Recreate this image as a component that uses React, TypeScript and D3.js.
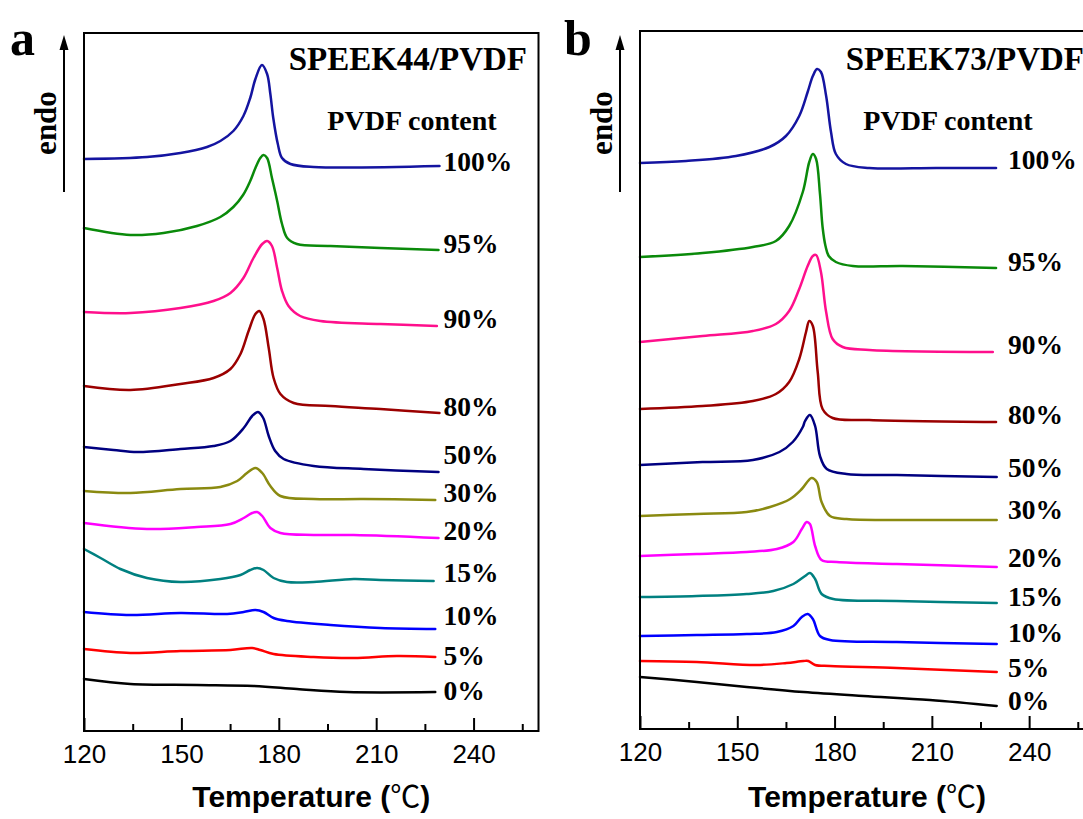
import React, { useEffect, useRef } from 'react';
import * as d3 from 'd3';

type Pt = [number, number];

const W = 1083;
const H = 819;

// PVDF content of each trace, top to bottom
const contentLabels = ['100%', '95%', '90%', '80%', '50%', '30%', '20%', '15%', '10%', '5%', '0%'];
const lineColors = ['#1414a0', '#0a8a0a', '#ff0f8c', '#9b0000', '#000080', '#8a8a10', '#ff00ff', '#008080', '#0000ff', '#ff0000', '#000000'];

const majorTicks = [120, 150, 180, 210, 240];
const minorTicks = [135, 165, 195, 225, 255];

// ---- panel a : SPEEK44/PVDF  (temperature °C, heat flow a.u. with offset)
const a100: Pt[] = [[120, 57.2], [139.4, 57.4], [149.7, 57.8], [157.9, 58.4], [162, 59.0], [166, 60.0], [169.1, 61.5], [171.2, 63.3], [172.8, 65.2], [174.8, 66.6], [176.4, 65.7], [177.4, 63.7], [178.3, 61.3], [179.7, 58.7], [181, 57.3], [183.6, 56.7], [190.7, 56.4], [229.5, 56.5]];
const a95: Pt[] = [[120, 50.3], [134.3, 49.6], [144.5, 49.8], [154.8, 50.5], [162, 51.4], [166, 52.4], [169, 53.6], [171.2, 55.0], [172.8, 56.3], [174.3, 57.3], [175.3, 57.6], [176.4, 57.3], [177.9, 55.3], [179.5, 53.0], [181, 50.7], [182.6, 49.3], [185.6, 48.7], [195.9, 48.5], [229.2, 48.1]];
const a90: Pt[] = [[120, 41.9], [134.3, 41.8], [149.7, 42.3], [159.9, 43.0], [165.1, 43.8], [169.1, 45.3], [172.2, 47.3], [174.9, 48.7], [176.4, 49.0], [177.9, 48.5], [179.5, 46.3], [181, 44.0], [183, 42.5], [186.6, 41.5], [192.8, 41.0], [211.3, 40.7], [228.7, 40.5]];
const a80: Pt[] = [[120, 34.5], [134.3, 34.1], [149.7, 34.7], [159.9, 35.3], [165.1, 36.2], [168.2, 37.7], [170.7, 40.0], [172.8, 41.7], [174, 42.0], [175.3, 41.2], [176.9, 38.3], [178.4, 35.3], [180.5, 33.7], [184.6, 32.8], [195.9, 32.5], [211.3, 32.2], [229.5, 31.8]];
const a50: Pt[] = [[120, 28.4], [129.1, 28.1], [136.4, 27.9], [149.7, 28.2], [159.9, 28.5], [165.1, 29.0], [169.2, 30.3], [171.8, 31.5], [173.6, 31.9], [175.2, 31.3], [176.9, 29.5], [178.9, 28.0], [181.5, 27.2], [190.7, 26.5], [206.1, 26.2], [229.2, 25.9]];
const a30: Pt[] = [[120, 24.0], [134.3, 23.8], [149.7, 24.2], [162, 24.4], [167.2, 25.0], [170.2, 25.8], [172.8, 26.3], [174.9, 25.8], [177.4, 24.5], [180.5, 23.5], [190.7, 23.2], [206.1, 23.2], [228.2, 23.1]];
const a20: Pt[] = [[120, 20.8], [139.4, 20.2], [154.8, 20.4], [165.1, 20.7], [169.2, 21.3], [171.8, 21.8], [173.3, 21.9], [174.9, 21.5], [177.4, 20.3], [180.5, 19.8], [190.7, 19.6], [203.1, 19.6], [229.2, 19.3]];
const a15: Pt[] = [[120, 18.2], [125.1, 17.3], [131.2, 16.2], [139.4, 15.3], [149.7, 14.9], [162, 15.2], [168.2, 15.6], [171.2, 16.1], [173.3, 16.3], [175.3, 16.1], [178.4, 15.3], [182.5, 14.9], [190.7, 14.9], [203.1, 15.2], [211.3, 15.1], [227.7, 15.0]];
const a10: Pt[] = [[120, 11.9], [134.3, 11.6], [149.7, 11.8], [164.1, 11.7], [169.2, 11.9], [172.8, 12.1], [175.3, 11.9], [178.4, 11.3], [182.5, 11.0], [195.9, 10.6], [211.3, 10.3], [228.2, 10.2]];
const a5: Pt[] = [[120, 8.2], [134.3, 7.8], [149.7, 8.0], [165.1, 8.1], [171.8, 8.3], [174.3, 8.1], [178.4, 7.7], [190.7, 7.4], [203.1, 7.3], [216.4, 7.5], [228.2, 7.4]];
const a0: Pt[] = [[120, 5.2], [134.3, 4.7], [154.8, 4.6], [172.3, 4.5], [185.6, 4.2], [201, 3.9], [228.2, 3.9]];
// level (a.u.) at which each content label sits
const labelLevelA = [56.0, 47.8, 40.3, 31.5, 26.7, 22.9, 19.1, 14.9, 10.6, 6.6, 3.1];

// ---- panel b : SPEEK73/PVDF
const b100: Pt[] = [[120, 56.6], [134.2, 56.8], [149.6, 57.3], [159.9, 58.2], [165, 59.3], [169.1, 61.3], [171.7, 63.7], [173.3, 65.3], [174.6, 66.0], [175.8, 65.7], [177.4, 63.3], [178.9, 59.7], [180.4, 57.5], [183.5, 56.5], [190.7, 56.1], [211.3, 56.1], [229.8, 56.1]];
const b95: Pt[] = [[120, 47.2], [139.3, 47.6], [154.8, 48.2], [161.9, 48.8], [166, 50.3], [170.2, 53.7], [172.2, 56.7], [173.3, 57.5], [174.3, 57.0], [175.5, 53.5], [176.3, 50.2], [177.2, 48.3], [178.2, 47.3], [180.4, 46.7], [185.6, 46.3], [201, 46.3], [229.8, 46.1]];
const b90: Pt[] = [[120, 38.7], [139.3, 39.3], [154.8, 39.8], [161.9, 40.5], [166, 41.8], [169.1, 44.0], [171.7, 46.3], [173.3, 47.3], [174.3, 47.4], [175.8, 45.7], [177.4, 41.7], [179.4, 39.0], [182.5, 38.2], [190.7, 37.9], [228.8, 37.7]];
const b80: Pt[] = [[120, 32.0], [139.3, 32.3], [154.8, 32.8], [161.9, 33.5], [166, 34.7], [169.1, 37.0], [171.2, 39.7], [172.2, 40.8], [173.3, 40.3], [174.8, 35.7], [176.3, 32.0], [179.4, 31.1], [190.7, 30.9], [229.8, 30.7]];
const b50: Pt[] = [[120, 26.4], [139.3, 26.7], [154.8, 26.9], [163, 27.7], [167.1, 28.7], [170.2, 30.2], [170.9, 30.8], [172.4, 31.4], [174, 30.3], [175.5, 27.3], [177.6, 26.0], [183.7, 25.5], [199.2, 25.4], [230, 25.2]];
const b30: Pt[] = [[120, 21.3], [137.5, 21.5], [152.9, 21.7], [160.1, 22.2], [166.3, 23.0], [169.9, 24.0], [172.9, 25.1], [174.5, 24.7], [176, 22.7], [178.6, 21.3], [183.7, 21.0], [199.2, 20.9], [230, 20.9]];
const b20: Pt[] = [[120, 17.3], [137.5, 17.5], [152.9, 17.7], [162.2, 18.0], [167.3, 18.7], [169.9, 20.0], [171.4, 20.7], [172.4, 20.5], [174, 18.3], [176, 16.9], [180.7, 16.7], [199.2, 16.5], [230, 16.2]];
const b15: Pt[] = [[120, 13.2], [137.5, 13.3], [152.9, 13.5], [161.1, 13.8], [167.3, 14.5], [170.9, 15.3], [172.4, 15.6], [174, 15.0], [176, 13.5], [179.6, 13.0], [199.2, 12.8], [230, 12.6]];
const b10: Pt[] = [[120, 9.3], [137.5, 9.4], [152.9, 9.5], [162.2, 9.7], [167.3, 10.3], [169.9, 11.2], [171.7, 11.5], [173.3, 11.0], [175.5, 9.3], [178.6, 8.9], [199.2, 8.7], [230, 8.5]];
const b5: Pt[] = [[120, 6.8], [137.5, 6.7], [156, 6.4], [165.2, 6.6], [170.4, 6.8], [171.9, 6.8], [174, 6.4], [178.6, 6.3], [199.2, 6.1], [230, 5.7]];
const b0: Pt[] = [[120, 5.2], [137.5, 4.7], [152.9, 4.2], [170.4, 3.7], [188.9, 3.3], [209.4, 2.9], [230, 2.3]];
const labelLevelB = [56.0, 45.8, 37.5, 30.5, 25.2, 21.0, 16.2, 12.3, 8.7, 5.2, 1.9];

const SERIF = '"Times New Roman", "Liberation Serif", serif';
const SANS = 'Arial, "Liberation Sans", sans-serif';

const panels = [
  { letter: 'a', title: 'SPEEK44/PVDF', left: 84, right: 538.5, top: 33, bottom: 731, series: [a100, a95, a90, a80, a50, a30, a20, a15, a10, a5, a0], levels: labelLevelA, labelT: 230.7, letterX: 10, arrowX: 64, titleX: 527, contentX: 412 },
  { letter: 'b', title: 'SPEEK73/PVDF', left: 640, right: 1094, top: 31, bottom: 729, series: [b100, b95, b90, b80, b50, b30, b20, b15, b10, b5, b0], levels: labelLevelB, labelT: 233.5, letterX: 564, arrowX: 620, titleX: 1084, contentX: 948 },
];

export default function App() {
  const svgRef = useRef<SVGSVGElement>(null);

  useEffect(() => {
    const svg = d3.select(svgRef.current);
    svg.selectAll('*').remove();

    panels.forEach(p => {
      const g = svg.append('g');
      const x = d3.scaleLinear().domain([120, 260]).range([p.left, p.right]);
      const y = d3.scaleLinear().domain([0, 69.8]).range([p.bottom, p.top]);
      const line = d3.line<Pt>().x(d => x(d[0])).y(d => y(d[1])).curve(d3.curveCatmullRom.alpha(0.5));

      // traces
      p.series.forEach((s, i) => {
        g.append('path')
          .attr('d', line(s))
          .attr('fill', 'none')
          .attr('stroke', lineColors[i])
          .attr('stroke-width', 2.5)
          .attr('stroke-linejoin', 'round')
          .attr('stroke-linecap', 'round');
      });

      // content labels
      p.series.forEach((s, i) => {
        g.append('text')
          .attr('x', x(p.labelT))
          .attr('y', y(p.levels[i]))
          .attr('font-family', SERIF)
          .attr('font-weight', 'bold')
          .attr('font-size', 27.5)
          .text(contentLabels[i]);
      });

      // frame
      g.append('rect')
        .attr('x', p.left).attr('y', p.top)
        .attr('width', p.right - p.left).attr('height', p.bottom - p.top)
        .attr('fill', 'none').attr('stroke', '#000').attr('stroke-width', 2);

      // x axis, ticks pointing in
      const ax = g.append('g')
        .attr('transform', `translate(0,${p.bottom})`)
        .call(d3.axisBottom(x).tickValues(majorTicks).tickSizeInner(-13).tickSizeOuter(0).tickPadding(14).tickFormat(d3.format('d')));
      ax.select('.domain').remove();
      ax.selectAll('line').attr('stroke', '#000').attr('stroke-width', 2);
      ax.selectAll('text')
        .attr('font-family', SANS)
        .attr('font-size', 26)
        .attr('fill', '#000');

      const mx = g.append('g')
        .attr('transform', `translate(0,${p.bottom})`)
        .call(d3.axisBottom(x).tickValues(minorTicks).tickSizeInner(-7).tickSizeOuter(0).tickFormat(() => ''));
      mx.select('.domain').remove();
      mx.selectAll('line').attr('stroke', '#000').attr('stroke-width', 2);

      // axis title
      const t = g.append('text')
        .attr('x', (p.left + p.right) / 2)
        .attr('y', 807)
        .attr('text-anchor', 'middle')
        .attr('font-family', SANS)
        .attr('font-weight', 'bold')
        .attr('font-size', 30);
      t.append('tspan').text('Temperature (');
      t.append('tspan').attr('font-family', '"Noto Sans CJK SC"').attr('font-weight', 'normal').attr('font-size', 30).text('℃');
      t.append('tspan').text(')');

      // titles
      g.append('text')
        .attr('x', p.titleX).attr('y', 70)
        .attr('text-anchor', 'end')
        .attr('font-family', SERIF).attr('font-weight', 'bold').attr('font-size', 33)
        .text(p.title);
      g.append('text')
        .attr('x', p.contentX).attr('y', 130)
        .attr('text-anchor', 'middle')
        .attr('font-family', SERIF).attr('font-weight', 'bold').attr('font-size', 28)
        .text('PVDF content');

      // panel letter
      g.append('text')
        .attr('x', p.letterX).attr('y', 55)
        .attr('font-family', SERIF).attr('font-weight', 'bold').attr('font-size', 50)
        .text(p.letter);

      // endo arrow
      g.append('line')
        .attr('x1', p.arrowX).attr('x2', p.arrowX)
        .attr('y1', 192).attr('y2', 46)
        .attr('stroke', '#000').attr('stroke-width', 2);
      g.append('path')
        .attr('d', `M${p.arrowX},35 L${p.arrowX - 4.5},50 L${p.arrowX + 4.5},50 Z`)
        .attr('fill', '#000');
      g.append('text')
        .attr('transform', `translate(${p.arrowX - 8},123) rotate(-90)`)
        .attr('text-anchor', 'middle')
        .attr('font-family', SERIF).attr('font-weight', 'bold').attr('font-size', 31)
        .text('endo');
    });
  }, []);

  return (
    <svg
      ref={svgRef}
      width={W}
      height={H}
      style={{ position: 'absolute', left: 0, top: 0, background: '#fff', overflow: 'hidden' }}
    />
  );
}
